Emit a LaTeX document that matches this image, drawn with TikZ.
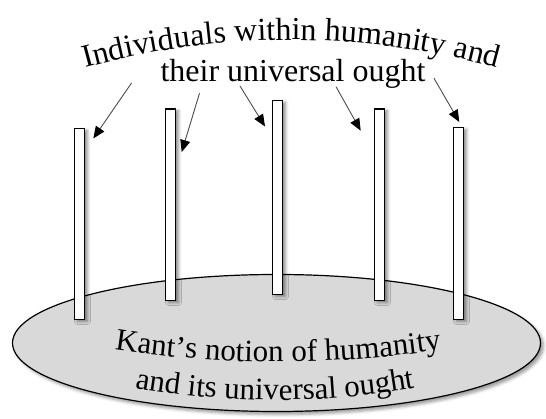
\documentclass[tikz,border=0pt]{standalone}
\usepackage{fontspec}
\setmainfont{Liberation Serif}
\usetikzlibrary{shapes.geometric,arrows.meta,decorations.text,shadows.blur}
\begin{document}
\begin{tikzpicture}[x=1pt,y=1pt,
  post/.style={draw=black, line width=1.3pt, fill=white, minimum width=10pt, inner sep=0pt, outer sep=0pt, anchor=south west,
    blur shadow={shadow xshift=3pt, shadow yshift=-2pt, shadow blur radius=3pt, shadow opacity=45}},
  pointer/.style={draw=black!70, line width=0.9pt, -{Triangle[length=12pt,width=10pt,color=black]}},
  lbl/.style={font=\fontsize{32}{38}\selectfont, inner sep=0pt}]
\useasboundingbox (0,0) rectangle (546,419);
% base ellipse
\node[ellipse, draw=black, line width=1.2pt, fill=black!15, minimum width=528pt, minimum height=137pt, inner sep=0pt,
  blur shadow={shadow xshift=3pt, shadow yshift=-3pt, shadow blur radius=3pt, shadow opacity=40}] (base) at (276.5,76) {};
% posts
\node[post, minimum height=191pt] (p1) at (74.5,99.5) {};
\node[post, minimum height=191.5pt] (p2) at (165.5,118.5) {};
\node[post, minimum height=194pt] (p3) at (272.5,124.5) {};
\node[post, minimum height=191.5pt] (p4) at (374.5,118.5) {};
\node[post, minimum height=192pt] (p5) at (453.5,99.5) {};
% arrows
\coordinate (a1s) at (131.6,336.1); \coordinate (a1e) at (93.3,280.5);
\coordinate (a2s) at (199.5,325.7); \coordinate (a2e) at (181.7,267);
\coordinate (a3s) at (240,333);     \coordinate (a3e) at (265,292.5);
\coordinate (a4s) at (336,332.3);   \coordinate (a4e) at (360.7,288.3);
\coordinate (a5s) at (434,340.7);   \coordinate (a5e) at (459.3,297);
\draw[pointer] (a1s) -- (a1e);
\draw[pointer] (a2s) -- (a2e);
\draw[pointer] (a3s) -- (a3e);
\draw[pointer] (a4s) -- (a4e);
\draw[pointer] (a5s) -- (a5e);
% top label
\path[decorate, decoration={text along path, text align=center,
  text={|\fontsize{32}{38}\selectfont|Individuals within humanity and}}]
  ([shift={(110:774pt)}]291,-395) arc[start angle=110, end angle=70, radius=774pt];
\node[lbl, anchor=base] (t2) at (293,337.3) {their universal ought};
% base label
\path[decorate, decoration={text along path, text align=center,
  text={|\fontsize{31}{37}\selectfont|Kant’s notion of humanity}}]
  ([shift={(250:1082pt)}]278,1139) arc[start angle=250, end angle=290, radius=1082pt];
\path[decorate, decoration={text along path, text align=center,
  text={|\fontsize{31}{37}\selectfont|and its universal ought}}]
  ([shift={(250:823pt)}]275,842) arc[start angle=250, end angle=290, radius=823pt];
\end{tikzpicture}
\end{document}
